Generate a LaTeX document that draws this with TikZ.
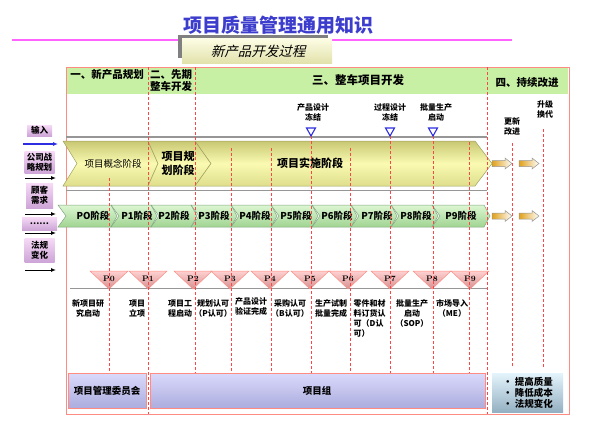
\documentclass[tikz,border=0pt]{standalone}
\usepackage{fontspec}
\newfontfamily\cjk{Noto Sans CJK SC}
\newfontfamily\cjkit[FakeSlant=0.25]{Noto Sans CJK SC}
\usetikzlibrary{arrows.meta}
\definecolor{titleblue}{RGB}{60,60,205}
\definecolor{rulepink}{RGB}{255,100,255}
\definecolor{framered}{RGB}{255,140,130}
\definecolor{dashred}{RGB}{255,70,70}
\definecolor{headgreen}{RGB}{200,240,165}
\definecolor{bandline}{RGB}{150,150,150}
\definecolor{yelltop}{RGB}{200,200,115}
\definecolor{yellmid}{RGB}{250,250,178}
\definecolor{yellbot}{RGB}{222,222,140}
\definecolor{yelledge}{RGB}{160,160,95}
\definecolor{grntop}{RGB}{220,246,210}
\definecolor{grnbot}{RGB}{160,212,145}
\definecolor{grnedge}{RGB}{130,165,130}
\definecolor{pinktop}{RGB}{255,208,208}
\definecolor{pinkbot}{RGB}{212,145,145}
\definecolor{lavtop}{RGB}{218,218,252}
\definecolor{lavbot}{RGB}{172,172,222}
\definecolor{icetop}{RGB}{228,244,252}
\definecolor{icebot}{RGB}{148,176,194}
\definecolor{inputtop}{RGB}{246,218,246}
\definecolor{inputbot}{RGB}{205,165,215}
\definecolor{goldarr}{RGB}{225,160,25}
\definecolor{milblue}{RGB}{45,45,225}
\definecolor{boxshade}{RGB}{128,128,128}
\definecolor{subtop}{RGB}{252,252,228}
\definecolor{subbot}{RGB}{226,226,172}

\tikzset{
  lbl/.style={inner sep=0.5pt, align=center, font=\cjk\bfseries\fontsize{8}{10}\selectfont},
  headlbl/.style={inner sep=0.5pt, align=center, font=\cjk\bfseries\fontsize{10.5}{12}\selectfont},
  stagelbl/.style={inner sep=0.5pt, font=\cjk\bfseries\fontsize{9.5}{11}\selectfont},
  mline/.style={dashred, line width=0.6pt, dash pattern=on 3pt off 2pt},
  greyrule/.style={bandline, line width=1.2pt},
  yellseg/.style={draw=yelledge, line width=0.5pt, top color=yelltop, bottom color=yellbot, middle color=yellmid},
  grnseg/.style={draw=grnedge, line width=0.5pt, top color=grntop, bottom color=grnbot},
  pinktri/.style={draw=framered, line width=0.5pt, top color=pinktop, bottom color=pinkbot},
  inbox/.style={inner sep=0.5pt, align=center, top color=inputtop, bottom color=inputbot, font=\cjk\bfseries\fontsize{8.5}{10}\selectfont},
  inarrow/.style={-{Latex[length=5pt,width=4pt]}, line width=1pt},
  goldarrow/.style={draw=bandline, line width=0.5pt, left color=goldarr, right color=white},
  groupbox/.style={draw=framered, line width=0.6pt, top color=lavtop, bottom color=lavbot, inner sep=0pt}
}

\begin{document}
\begin{tikzpicture}[x=1pt,y=1pt,yscale=-1,xscale=1]
\path[use as bounding box] (0,0) rectangle (591,428);

% Title
\node[font=\cjk\bfseries\fontsize{19}{22}\selectfont, text=titleblue] (title) at (278,25) {项目质量管理通用知识};
\draw[rulepink, line width=2.2pt] (12,40) -- (512,40);
% subtitle box
\fill[boxshade] (178,35) rectangle (328,58);
\draw[draw=none, top color=subtop, bottom color=subbot] (182,39) rectangle (332,63);
\node[font=\cjkit\fontsize{13.5}{15}\selectfont] (subtitle) at (258,51) {新产品开发过程};

% outer frame and header band
\fill[headgreen] (67,68) rectangle (568,93.5);
\draw[framered, line width=0.8pt] (66,67) rectangle (569,414);

% Text Node
\node[headlbl] (hd1) at (107,75) {一、新产品规划};
\node[headlbl] (hd2) at (171,81) {二、先期\\整车开发};
\node[headlbl, font=\cjk\bfseries\fontsize{11.5}{13}\selectfont] (hd3) at (358,80) {三、整车项目开发};
\node[headlbl] (hd4) at (527,83) {四、持续改进};

% grey rules
\draw[greyrule] (66,137) -- (487,137);
\draw[greyrule] (66,190.5) -- (487,190.5);
\draw[greyrule] (70,288.5) -- (487,288.5);

% yellow phase band
\draw[yellseg] (63,141) -- (148,141) -- (158,163.5) -- (148,186) -- (63,186) -- (77,163.5) -- cycle;
\draw[yellseg] (148,141) -- (195,141) -- (211,163.5) -- (195,186) -- (148,186) -- (158,163.5) -- cycle;
\draw[yellseg] (195,141) -- (475,141) -- (492,163.5) -- (475,186) -- (195,186) -- (211,163.5) -- cycle;
\node[stagelbl, font=\cjk\fontsize{9.5}{11}\selectfont] (ph1) at (113,163.5) {项目概念阶段};
\node[stagelbl, align=center, font=\cjk\bfseries\fontsize{11}{14}\selectfont] (ph2) at (178,163) {项目规\\划阶段};
\node[stagelbl, font=\cjk\bfseries\fontsize{11}{13}\selectfont] (ph3) at (310,163.5) {项目实施阶段};

% green stage band
\foreach \a/\b/\c/\lab [count=\i] in {58/111/93/PO,111/151/137/P1,151/191/174/P2,191/231/214/P3,231/271/255/P4,271/312/296/P5,312/351/337/P6,351/391/377/P7,391/432/416/P8,432/484/461/P9}{
  \draw[grnseg] (\a,205) -- (\b,205) -- (\b+6,216) -- (\b,227) -- (\a,227) -- (\a+8,216) -- cycle;
  \node[stagelbl] (st\i) at (\c,216) {\lab 阶段};
}

% gold arrows in section four
\foreach \x/\y [count=\i] in {492/163.5,519/163.5,492/216,519/216}{
  \draw[goldarrow] (\x,\y-3) -- (\x+13,\y-3) -- (\x+13,\y-5.5) -- (\x+20,\y) -- (\x+13,\y+5.5) -- (\x+13,\y+3) -- (\x,\y+3) -- cycle;
}

% milestone triangles
\foreach \x/\lab [count=\i] in {109/P0,148/P1,193/P2,230/P3,270/P4,310/P5,348/P6,390/P7,432/P8,470/P9}{
  \draw[pinktri] (\x-19,271) -- (\x+19,271) -- (\x,289) -- cycle;
  \node[inner sep=0pt, font=\bfseries\fontsize{8}{9}\selectfont] (ms\i) at (\x,278.5) {\lab};
}

% dashed guide lines
\draw[mline] (148,67) -- (148,414);
\draw[mline] (195,67) -- (195,373);
\draw[mline] (487,67) -- (487,414);
\draw[mline] (109,178) -- (109,373);
\foreach \x in {231,271,350}{ \draw[mline] (\x,148) -- (\x,373); }
\foreach \x in {311,390,433}{ \draw[mline] (\x,136) -- (\x,373); }
\draw[mline] (469,142) -- (469,373);
\draw[mline] (512,143) -- (512,367);
\draw[mline] (543,129) -- (543,367);

% freeze milestones
\foreach \x in {311,390,433}{
  \draw[milblue, line width=1.1pt, fill=white] (\x-4.5,128) -- (\x+4.5,128) -- (\x,136) -- cycle;
}
\node[lbl, anchor=north] (fz1) at (313,103) {产品设计\\冻结};
\node[lbl, anchor=north] (fz2) at (390,103) {过程设计\\冻结};
\node[lbl, anchor=north] (fz3) at (436,103) {批量生产\\启动};
\node[lbl, anchor=north] (up1) at (512,117) {更新\\改进};
\node[lbl, anchor=north] (up2) at (545,100) {升级\\换代};

% milestone texts
\node[lbl, anchor=north] (mt0) at (88,299) {新项目研\\究启动};
\node[lbl, anchor=north] (mt1) at (137,299) {项目\\立项};
\node[lbl, anchor=north] (mt2) at (180,299) {项目工\\程启动};
\node[lbl, anchor=north] (mt3) at (213,299) {规划认可\\（P认可）};
\node[lbl, anchor=north] (mt4) at (251,297) {产品设计\\验证完成};
\node[lbl, anchor=north] (mt5) at (290,299) {采购认可\\（B认可）};
\node[lbl, anchor=north] (mt6) at (331,299) {生产试制\\批量完成};
\node[lbl, anchor=north west, align=left] (mt7) at (353,299) {零件和材\\料订货认\\可（D认\\可）};
\node[lbl, anchor=north] (mt8) at (412,299) {批量生产\\启动\\（SOP）};
\node[lbl, anchor=north] (mt9) at (452,299) {市场导入\\（ME）};

% organisation boxes
\node[groupbox, minimum width=78, minimum height=35, font=\cjk\bfseries\fontsize{9.5}{11}\selectfont] (pmc) at (107,390.5) {项目管理委员会};
\draw[groupbox] (150,373) rectangle (485,408);
\node[inner sep=0pt, font=\cjk\bfseries\fontsize{9.5}{11}\selectfont] (team) at (317,390.5) {项目组};
\draw[draw=none, top color=icetop, bottom color=icebot] (492,373) rectangle (563,412);
\node[inner sep=0pt, align=left, font=\cjk\bfseries\fontsize{9.5}{11}\selectfont] (goals) at (528,393) {•\ 提高质量\\•\ 降低成本\\•\ 法规变化};

% inputs on the left
\node[inbox, minimum width=25, minimum height=11] (in0) at (39.5,130.5) {输入};
\node[inbox, minimum width=30, minimum height=22] (in1) at (39.5,162) {公司战\\略规划};
\node[inbox, minimum width=27, minimum height=25] (in2) at (39.5,195.5) {顾客\\需求};
\node[inbox, minimum width=35, minimum height=13] (in3) at (39.5,223.5) {……};
\node[inbox, minimum width=30, minimum height=24] (in4) at (39.5,250) {法规\\变化};
\coordinate (a0s) at (23,144);  \coordinate (a0e) at (58,144);
\coordinate (a1s) at (25,178);  \coordinate (a1e) at (56,178);
\coordinate (a2s) at (25,214);  \coordinate (a2e) at (56,214);
\coordinate (a3s) at (25,233);  \coordinate (a3e) at (56,233);
\coordinate (a4s) at (25,270);  \coordinate (a4e) at (56,270);
\draw[inarrow, milblue, line width=1.3pt] (a0s) -- (a0e);
\foreach \i in {1,2,3,4}{ \draw[inarrow] (a\i s) -- (a\i e); }

\end{tikzpicture}
\end{document}
